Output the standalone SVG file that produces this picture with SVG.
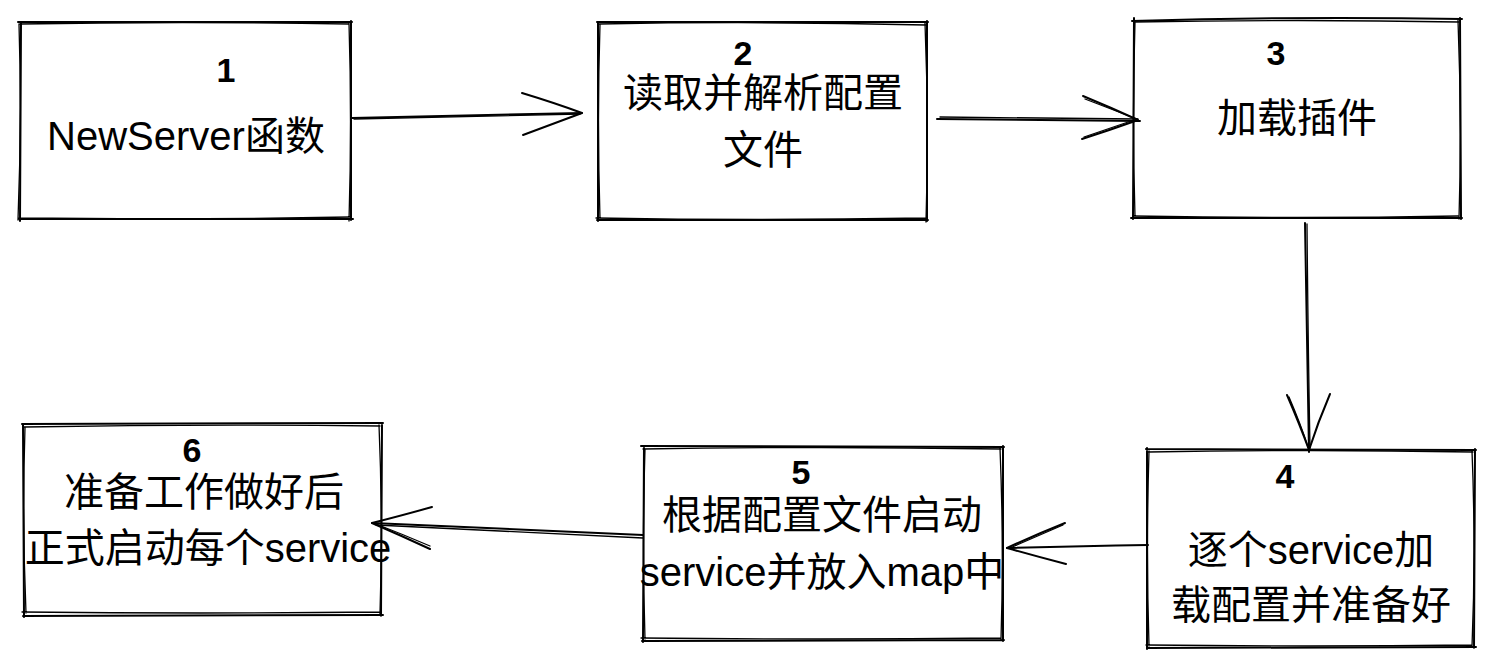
<svg xmlns="http://www.w3.org/2000/svg" width="1495" height="667" viewBox="0 0 1495 667">
  <style>
    .ink { fill: none; stroke: #000; stroke-width: 2; stroke-linecap: round; stroke-linejoin: round; }
    .ink2 { fill: none; stroke: #000; stroke-width: 1.3; stroke-linecap: round; stroke-linejoin: round; }
    .lbl { font-family: "Liberation Sans", "Noto Sans CJK SC", sans-serif; font-size: 40px; fill: #000; text-anchor: middle; }
    .num { font-family: "Liberation Sans", "Noto Sans CJK SC", sans-serif; font-size: 34px; font-weight: bold; fill: #000; text-anchor: middle; }
  </style>
  <rect width="1495" height="667" fill="#fff"/>

  <!-- 1: NewServer -->
  <g id="node-1">
    <path class="ink" d="M18 22 L352 22 M351 21 L351 220 M353 219 L19 219 M20 221 L21 22"/>
    <path class="ink2" d="M20 24 Q180 21 349 24 M349 23 Q352 120 349 221 M350 217 Q190 220 18 218 M18 220 Q22 120 19 24"/>
    <text class="num" x="226" y="82">1</text>
    <text class="lbl" x="186" y="150">NewServer函数</text>
  </g>

  <!-- 2: read and parse config -->
  <g id="node-2">
    <path class="ink" d="M597 22 L928 22 M927 21 L927 221 M928 220 L597 220 M598 221 L598 22"/>
    <path class="ink2" d="M599 24 Q760 21 926 25 M925 23 Q929 120 926 222 M926 218 Q760 221 596 218 M600 219 Q597 120 600 24"/>
    <text class="num" x="743" y="65">2</text>
    <text class="lbl" x="763" y="107">读取并解析配置</text>
    <text class="lbl" x="763" y="164">文件</text>
  </g>

  <!-- 3: load plugins -->
  <g id="node-3">
    <path class="ink" d="M1132 21 Q1300 16 1462 19 M1460 18 L1461 219 M1462 218 L1131 218 M1133 219 L1134 18"/>
    <path class="ink2" d="M1134 22 Q1300 19 1459 22 M1458 20 Q1462 120 1459 219 M1458 216 Q1300 219 1133 216 M1135 217 Q1132 120 1135 22"/>
    <text class="num" x="1276" y="65">3</text>
    <text class="lbl" x="1297" y="132">加载插件</text>
  </g>

  <!-- 4: per-service config -->
  <g id="node-4">
    <path class="ink" d="M1146 449 L1476 450 M1475 449 L1474 648 M1476 647 L1148 648 M1147 649 L1147 448"/>
    <path class="ink2" d="M1148 452 Q1310 449 1473 452 M1472 451 Q1476 550 1472 647 M1472 645 Q1310 647 1146 645 M1149 646 Q1146 550 1149 451"/>
    <text class="num" x="1285" y="488">4</text>
    <text class="lbl" x="1311" y="564">逐个service加</text>
    <text class="lbl" x="1311" y="619">载配置并准备好</text>
  </g>

  <!-- 5: start services into map -->
  <g id="node-5">
    <path class="ink" d="M641 446 L1004 447 M1003 446 L1003 641 M1004 640 L642 641 M643 642 L644 446"/>
    <path class="ink2" d="M643 449 Q820 446 1001 449 M1000 448 Q1004 545 1001 640 M1001 638 Q820 640 641 638 M645 639 Q642 545 645 449"/>
    <text class="num" x="801" y="484">5</text>
    <text class="lbl" x="822" y="529">根据配置文件启动</text>
    <text class="lbl" x="822" y="586">service并放入map中</text>
  </g>

  <!-- 6: start every service -->
  <g id="node-6">
    <path class="ink" d="M22 424 L383 423 M382 423 L381 616 M383 615 L23 616 M24 617 L23 424"/>
    <path class="ink2" d="M24 427 Q200 424 380 426 M379 425 Q383 520 380 614 M380 612 Q200 614 22 612 M26 613 Q22 520 25 427"/>
    <text class="num" x="192" y="462">6</text>
    <text class="lbl" x="204" y="506">准备工作做好后</text>
    <text class="lbl" x="208" y="562">正式启动每个service</text>
  </g>

  <!-- flow arrows -->
  <g id="connectors">
    <!-- 1 -> 2 -->
    <path class="ink" d="M352 118 Q470 115 582 113"/>
    <path class="ink2" d="M354 119 Q470 116 580 114"/>
    <path class="ink" d="M522 93 Q555 103 582 113 L523 135"/>
    <!-- 2 -> 3 -->
    <path class="ink" d="M937 119 Q1040 120 1140 121"/>
    <path class="ink2" d="M940 117 Q1040 118 1138 119"/>
    <path class="ink" d="M1083 96 Q1112 108 1138 120 Q1110 130 1082 139"/>
    <path class="ink2" d="M1085 99 L1137 119 L1084 137"/>
    <!-- 3 -> 4 -->
    <path class="ink" d="M1305 223 Q1307 340 1309 452"/>
    <path class="ink2" d="M1307 224 Q1308 340 1310 448"/>
    <path class="ink" d="M1287 395 Q1300 425 1309 450 Q1318 422 1330 394"/>
    <path class="ink2" d="M1289 397 Q1301 425 1308 447"/>
    <!-- 4 -> 5 -->
    <path class="ink" d="M1148 545 Q1080 546 1007 548"/>
    <path class="ink" d="M1065 523 Q1035 535 1007 548 Q1035 556 1066 564"/>
    <path class="ink2" d="M1063 525 L1010 548"/>
    <!-- 5 -> 6 -->
    <path class="ink" d="M643 535 Q510 529 372 523"/>
    <path class="ink2" d="M643 538 Q510 531 376 525"/>
    <path class="ink" d="M432 507 Q400 516 372 523 Q402 536 430 549"/>
    <path class="ink2" d="M430 546 Q402 534 376 524"/>
  </g>
</svg>
